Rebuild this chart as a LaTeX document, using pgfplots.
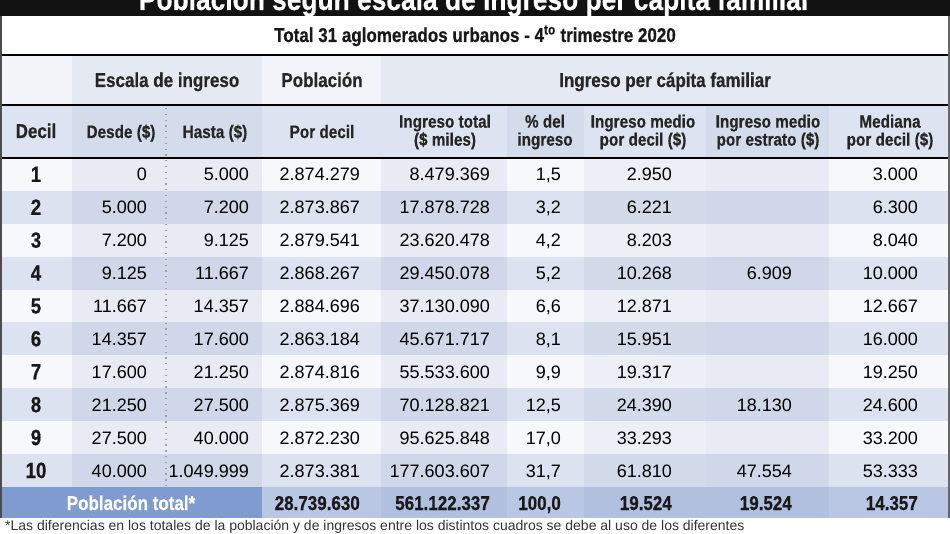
\documentclass[border=0pt]{standalone}
\usepackage{fontspec}
\setmainfont{Liberation Sans}
\newfontfamily\cond[FakeStretch=0.85, BoldFeatures={FakeBold=0.5}]{Liberation Sans}
\usepackage{pgfplots}
\pgfplotsset{compat=1.18}
\usepackage{pgfplotstable}

\definecolor{rowW}{HTML}{F7F8FC}
\definecolor{rowB}{HTML}{DCE2F0}
\definecolor{colS}{HTML}{3A5A9A}
\definecolor{hdrA}{HTML}{F2F4F9}
\definecolor{hdr2}{HTML}{DDE3F0}
\definecolor{totL}{HTML}{7F9BCF}
\definecolor{totR}{HTML}{B9C7E4}
\definecolor{shade}{HTML}{C5CBD8}

\newcommand\dfont{\fontsize{18}{21}\selectfont}
\newcommand\hfont{\cond\bfseries\fontsize{20}{22}\selectfont}
\newcommand\nfont{\cond\bfseries\fontsize{22}{24}\selectfont}
\newcommand\hsfont{\cond\bfseries\fontsize{18}{18}\selectfont}

% one row per decil, numbers kept as printed
\pgfplotstableread{
r desde hasta pob ingtot pct medio mediana
1 0 5.000 2.874.279 8.479.369 1,5 2.950 3.000
2 5.000 7.200 2.873.867 17.878.728 3,2 6.221 6.300
3 7.200 9.125 2.879.541 23.620.478 4,2 8.203 8.040
4 9.125 11.667 2.868.267 29.450.078 5,2 10.268 10.000
5 11.667 14.357 2.884.696 37.130.090 6,6 12.871 12.667
6 14.357 17.600 2.863.184 45.671.717 8,1 15.951 16.000
7 17.600 21.250 2.874.816 55.533.600 9,9 19.317 19.250
8 21.250 27.500 2.875.369 70.128.821 12,5 24.390 24.600
9 27.500 40.000 2.872.230 95.625.848 17,0 33.293 33.200
10 40.000 1.049.999 2.873.381 177.603.607 31,7 61.810 53.333
}\datatab

\pgfplotstableread{
r estrato
4 6.909
8 18.130
10 47.554
}\estratotab

\pgfplotsset{
  cell/.style={draw=none, nodes near coords, point meta=explicit symbolic,
    every node near coord/.append style={anchor=base east, inner sep=0pt, font=\dfont, text=black}},
  cellc/.style={draw=none, nodes near coords, point meta=explicit symbolic,
    every node near coord/.append style={anchor=base, inner sep=0pt, font=\nfont, text=black!90}},
  tot/.style={draw=none, nodes near coords, point meta=explicit symbolic,
    every node near coord/.append style={anchor=base east, inner sep=0pt, font=\hfont, text=black!90}},
}

\begin{document}
\begin{tikzpicture}
\begin{axis}[
    width=950pt, height=534pt, scale only axis,
    xmin=0, xmax=950, ymin=0, ymax=534, y dir=reverse,
    hide axis, clip=false,
]
% title bar and subtitle
\fill[black!93] (0,-20) rectangle (950,16);
\fill[white] (0,16) rectangle (950,55);
% header rows
\fill[hdrA] (0,55) rectangle (950,105);
\fill[colS, opacity=0.07] (72,55) rectangle (262,105);
\fill[colS, opacity=0.07] (381,55) rectangle (950,105);
\fill[hdr2] (0,105) rectangle (950,158);
\fill[colS, opacity=0.05] (72,105) rectangle (262,158);
\fill[colS, opacity=0.05] (507,105) rectangle (584,158);
\fill[colS, opacity=0.05] (706,105) rectangle (829,158);
% data rows
\fill[rowW] (0,158) rectangle (950,487);
\fill[rowB] (0,190.9) rectangle (950,223.8);
\fill[rowB] (0,256.7) rectangle (950,289.6);
\fill[rowB] (0,322.5) rectangle (950,355.4);
\fill[rowB] (0,388.3) rectangle (950,421.2);
\fill[rowB] (0,454.1) rectangle (950,487);
\fill[colS, opacity=0.08] (72,158) rectangle (262,487);
\fill[colS, opacity=0.08] (381,158) rectangle (507,487);
\fill[colS, opacity=0.05] (584,158) rectangle (706,487);
\fill[colS, opacity=0.08] (706,158) rectangle (829,487);
% total row
\fill[totL] (0,487) rectangle (262,518);
\fill[totR] (262,487) rectangle (950,518);
\fill[colS, opacity=0.06] (381,487) rectangle (507,518);
\fill[colS, opacity=0.06] (584,487) rectangle (829,518);
\fill[white] (0,518) rectangle (950,545);
% separators
\draw[shade, line width=1.5pt] (0,55) -- (950,55);
\draw[shade, line width=1.5pt] (0,105) -- (950,105);
\draw[shade, line width=1.5pt] (0,158) -- (950,158);
\draw[gray!75, line width=1.3pt, dash pattern=on 1.3pt off 4.5pt] (166,108) -- (166,487);
\draw[black!70, line width=2pt] (1,16) -- (1,518);
\draw[black!60, line width=1.5pt] (949,16) -- (949,518);

% titles
\node[anchor=base, text=white, inner sep=0pt, font=\cond\bfseries\fontsize{31}{34}\selectfont]
  at (475,10) {Población según escala de ingreso per cápita familiar};
\node[anchor=base, inner sep=0pt, font=\cond\bfseries\fontsize{20}{22}\selectfont, text=black!90]
  at (475,42) {Total 31 aglomerados urbanos - 4\textsuperscript{to} trimestre 2020};

% header row 1
\node[anchor=base, inner sep=0pt, font=\hfont, text=black!85] at (167,87) {Escala de ingreso};
\node[anchor=base, inner sep=0pt, font=\hfont, text=black!85] at (322,87) {Población};
\node[anchor=base, inner sep=0pt, font=\hfont, text=black!85] at (665,87) {Ingreso per cápita familiar};
% header row 2
\node[anchor=base, inner sep=0pt, font=\hfont, text=black!85] at (36,138) {Decil};
\node[anchor=base, inner sep=0pt, font=\hsfont, text=black!85] at (121,138) {Desde (\$)};
\node[anchor=base, inner sep=0pt, font=\hsfont, text=black!85] at (215,138) {Hasta (\$)};
\node[anchor=base, inner sep=0pt, font=\hsfont, text=black!85] at (322,138) {Por decil};
\node[align=center, inner sep=0pt, font=\hsfont, text=black!85] at (445,132) {Ingreso total\\(\$ miles)};
\node[align=center, inner sep=0pt, font=\hsfont, text=black!85] at (545,132) {\% del\\ingreso};
\node[align=center, inner sep=0pt, font=\hsfont, text=black!85] at (643,132) {Ingreso medio\\por decil (\$)};
\node[align=center, inner sep=0pt, font=\hsfont, text=black!85] at (768,132) {Ingreso medio\\por estrato (\$)};
\node[align=center, inner sep=0pt, font=\hsfont, text=black!85] at (890,132) {Mediana\\por decil (\$)};

% data cells
\addplot[cellc] table[x expr=36, y expr=149+32.9*\thisrow{r}, meta=r] {\datatab};
\addplot[cell] table[x expr=147, y expr=148+32.9*\thisrow{r}, meta=desde] {\datatab};
\addplot[cell] table[x expr=249, y expr=148+32.9*\thisrow{r}, meta=hasta] {\datatab};
\addplot[cell] table[x expr=360, y expr=148+32.9*\thisrow{r}, meta=pob] {\datatab};
\addplot[cell] table[x expr=490, y expr=148+32.9*\thisrow{r}, meta=ingtot] {\datatab};
\addplot[cell] table[x expr=561, y expr=148+32.9*\thisrow{r}, meta=pct] {\datatab};
\addplot[cell] table[x expr=672, y expr=148+32.9*\thisrow{r}, meta=medio] {\datatab};
\addplot[cell] table[x expr=792, y expr=148+32.9*\thisrow{r}, meta=estrato] {\estratotab};
\addplot[cell] table[x expr=918, y expr=148+32.9*\thisrow{r}, meta=mediana] {\datatab};

% total row
\node[anchor=base, inner sep=0pt, font=\hfont, text=white] at (131,510) {Población total*};
\addplot[tot] coordinates {(360,510)[28.739.630] (490,510)[561.122.337] (561,510)[100,0]
  (672,510)[19.524] (792,510)[19.524] (918,510)[14.357]};

% footnote
\node[anchor=base west, inner sep=0pt, font=\fontsize{14}{16}\selectfont, text=black!80]
  at (5,530) {*Las diferencias en los totales de la población y de ingresos entre los distintos cuadros se debe al uso de los diferentes};
\end{axis}
\pgfresetboundingbox
\path[use as bounding box] (current axis.south west) rectangle (current axis.north east);
\end{tikzpicture}
\end{document}
